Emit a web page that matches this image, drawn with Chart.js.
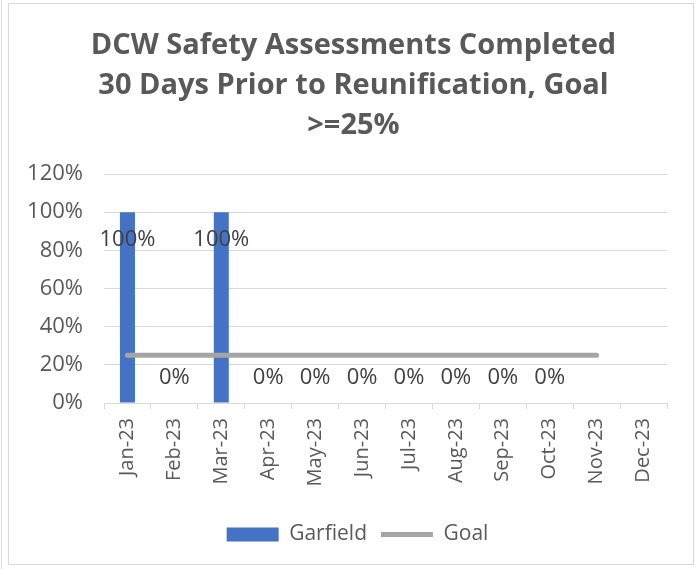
<!DOCTYPE html>
<html>
<head>
<meta charset="utf-8">
<script src="https://cdn.jsdelivr.net/npm/chart.js@4"></script>
<style>
  html, body { margin: 0; padding: 0; background: #fff; }
  #wrap { position: relative; width: 696px; height: 569px; }
  #frame { position: absolute; left: 8px; top: 3px; width: 686px; height: 562px; border: 1px solid #d9d9d9; box-sizing: border-box; }
  #edge { position: absolute; left: 1px; top: 0; width: 1px; height: 569px; background: #d9d9d9; }
  canvas { position: absolute; left: 0; top: 0; }
</style>
</head>
<body>
<div id="wrap">
  <div id="edge"></div>
  <div id="frame"></div>
  <canvas id="myChart" width="696" height="569"></canvas>
</div>
<script>
const months = ["Jan-23", "Feb-23", "Mar-23", "Apr-23", "May-23", "Jun-23",
  "Jul-23", "Aug-23", "Sep-23", "Oct-23", "Nov-23", "Dec-23"];
const garfield = [100, 0, 100, 0, 0, 0, 0, 0, 0, 0, null, null];
const goal = [25, 25, 25, 25, 25, 25, 25, 25, 25, 25, 25, null];
const yTicks = [0, 20, 40, 60, 80, 100, 120];

const textColor = "#595959";
const gridColor = "#d9d9d9";

// draws the % labels on the bars, like excel does
const barLabels = {
  id: "barLabels",
  afterDatasetsDraw(chart) {
    const ctx = chart.ctx;
    const meta = chart.getDatasetMeta(0);
    ctx.save();
    ctx.font = "22px 'Open Sans'";
    ctx.fillStyle = "#404040";
    ctx.textAlign = "center";
    ctx.textBaseline = "middle";
    meta.data.forEach((bar, i) => {
      const v = garfield[i];
      if (v === null) return;
      var y = v > 0 ? bar.y + 28 : bar.y - 25;
      ctx.fillText(`${v}%`, bar.x, y);
    });
    ctx.restore();
  },
};

// excel centres the title and legend a bit right of the plot
const boxShift = {
  id: "boxShift",
  afterLayout(chart) {
    chart.legend.left += 19;
    chart.legend.right += 19;
    chart.titleBlock.left += 15;
    chart.titleBlock.right += 15;
  },
};

var myChart = document.getElementById("myChart").getContext("2d");

new Chart(myChart, {
  data: {
    labels: months,
    datasets: [
      {
        type: "bar",
        label: "Garfield",
        data: garfield,
        backgroundColor: "#4472c4",
        borderWidth: 0,
        barPercentage: 0.32,
        categoryPercentage: 1,
        pointStyle: "rect",
        order: 1,
      },
      {
        type: "line",
        label: "Goal",
        data: goal,
        borderColor: "#a5a5a5",
        backgroundColor: "#a5a5a5",
        borderWidth: 5,
        borderCapStyle: "round",
        pointRadius: 0,
        pointStyle: "line",
        order: 0,
      },
    ],
  },
  options: {
    responsive: false,
    animation: false,
    layout: { padding: { left: 10, right: 29, top: 0, bottom: 14 } },
    plugins: {
      title: {
        display: true,
        text: ["DCW Safety Assessments Completed", "30 Days Prior to Reunification, Goal", ">=25%"],
        color: textColor,
        font: { family: "'Open Sans'", size: 29, weight: "bold", lineHeight: 1.38 },
        padding: { top: 26, bottom: 28 },
      },
      legend: {
        position: "bottom",
        labels: {
          usePointStyle: true,
          pointStyleWidth: 52,
          boxHeight: 14,
          padding: 14,
          color: textColor,
          font: { family: "'Open Sans'", size: 21 },
          sort: (a, b) => a.datasetIndex - b.datasetIndex,
        },
      },
      tooltip: { enabled: false },
    },
    scales: {
      x: {
        afterFit: (axis) => {
          axis.height = 107;
        },
        grid: {
          drawOnChartArea: false,
          drawTicks: true,
          tickLength: 6,
          color: gridColor,
        },
        border: { color: gridColor },
        ticks: {
          minRotation: 90,
          maxRotation: 90,
          padding: 9,
          color: textColor,
          font: { family: "'Open Sans'", size: 20 },
        },
      },
      y: {
        min: 0,
        max: 120,
        afterBuildTicks: (axis) => {
          axis.ticks = yTicks.map((v) => ({ value: v }));
        },
        afterFit: (axis) => {
          axis.width = 94;
        },
        grid: { color: gridColor, drawTicks: false },
        border: { display: false },
        ticks: {
          padding: 21,
          color: textColor,
          font: { family: "'Open Sans'", size: 22 },
          callback: (v) => `${v}%`,
        },
      },
    },
  },
  plugins: [barLabels, boxShift],
});
</script>
</body>
</html>
